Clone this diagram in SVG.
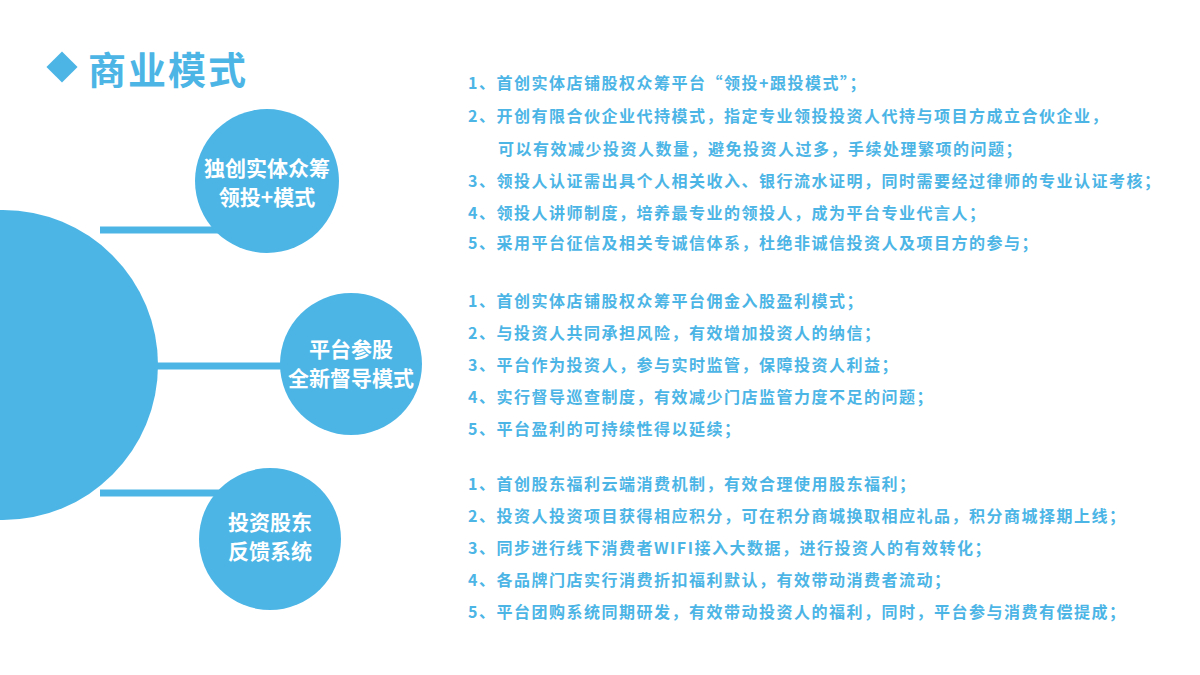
<svg xmlns="http://www.w3.org/2000/svg" width="1200" height="675" viewBox="0 0 1200 675">
<style>
.c{fill:#4cb5e6}
.n{font-family:"Noto Sans CJK SC","Liberation Sans",sans-serif;font-weight:bold;font-size:21px;fill:#fff;text-anchor:middle}
.t{font-family:"Noto Sans CJK SC","Liberation Sans",sans-serif;font-weight:bold;font-size:16px;letter-spacing:1.5px;fill:#4cb5e6}
.l{stroke:#4cb5e6;stroke-width:7}
</style>
<rect width="1200" height="675" fill="#fff"/>
<g id="title">
<rect x="51" y="56" width="22" height="22" class="c" transform="rotate(45 62 67)"/>
<text x="88" y="84" font-family="Noto Sans CJK SC,Liberation Sans,sans-serif" font-weight="bold" font-size="38" letter-spacing="2" fill="#4cb5e6">商业模式</text>
</g>
<g id="connectors">
<line class="l" x1="100" y1="230" x2="230" y2="230"/>
<line class="l" x1="150" y1="366" x2="290" y2="366"/>
<line class="l" x1="100" y1="493" x2="230" y2="493"/>
</g>
<g id="hub"><circle class="c" cx="3" cy="365" r="155"/></g>
<g id="node1"><circle class="c" cx="267" cy="181" r="72"/>
<text class="n" x="267" y="176">独创实体众筹</text><text class="n" x="267" y="205">领投+模式</text></g>
<g id="node2"><circle class="c" cx="351" cy="364" r="71"/>
<text class="n" x="351" y="357">平台参股</text><text class="n" x="351" y="386">全新督导模式</text></g>
<g id="node3"><circle class="c" cx="270" cy="539" r="71"/>
<text class="n" x="270" y="530">投资股东</text><text class="n" x="270" y="559">反馈系统</text></g>
<g id="text1">
<text class="t" x="468" y="89">1、首创实体店铺股权众筹平台“领投+跟投模式”；</text>
<text class="t" x="468" y="122">2、开创有限合伙企业代持模式，指定专业领投投资人代持与项目方成立合伙企业，</text>
<text class="t" x="498" y="155">可以有效减少投资人数量，避免投资人过多，手续处理繁项的问题；</text>
<text class="t" x="468" y="187">3、领投人认证需出具个人相关收入、银行流水证明，同时需要经过律师的专业认证考核；</text>
<text class="t" x="468" y="219">4、领投人讲师制度，培养最专业的领投人，成为平台专业代言人；</text>
<text class="t" x="468" y="249">5、采用平台征信及相关专诚信体系，杜绝非诚信投资人及项目方的参与；</text>
</g>
<g id="text2">
<text class="t" x="468" y="307">1、首创实体店铺股权众筹平台佣金入股盈利模式；</text>
<text class="t" x="468" y="339">2、与投资人共同承担风险，有效增加投资人的纳信；</text>
<text class="t" x="468" y="371">3、平台作为投资人，参与实时监管，保障投资人利益；</text>
<text class="t" x="468" y="403">4、实行督导巡查制度，有效减少门店监管力度不足的问题；</text>
<text class="t" x="468" y="435">5、平台盈利的可持续性得以延续；</text>
</g>
<g id="text3">
<text class="t" x="468" y="490">1、首创股东福利云端消费机制，有效合理使用股东福利；</text>
<text class="t" x="468" y="522">2、投资人投资项目获得相应积分，可在积分商城换取相应礼品，积分商城择期上线；</text>
<text class="t" x="468" y="554">3、同步进行线下消费者WIFI接入大数据，进行投资人的有效转化；</text>
<text class="t" x="468" y="586">4、各品牌门店实行消费折扣福利默认，有效带动消费者流动；</text>
<text class="t" x="468" y="618">5、平台团购系统同期研发，有效带动投资人的福利，同时，平台参与消费有偿提成；</text>
</g>
</svg>
